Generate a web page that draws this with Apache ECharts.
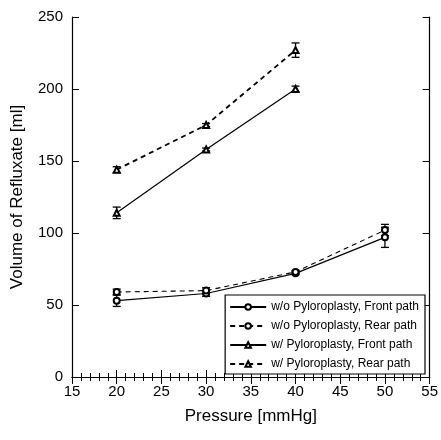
<!DOCTYPE html>
<html>
<head>
<meta charset="utf-8">
<script src="https://cdn.jsdelivr.net/npm/echarts@6/dist/echarts.min.js"></script>
<style>
  html, body { margin: 0; padding: 0; background: #fff; }
  #chart { width: 441px; height: 440px; }
</style>
</head>
<body>
<div id="chart"></div>
<script>
// pressure values [mmHg]
const pressures = [20, 30, 40, 50]
const pressuresW = [20, 30, 40]

// mean refluxate volume [ml]
const woFront = [53, 58, 72, 97]
const woRear = [59, 60, 73, 102]
const wFront = [114, 158, 200]
const wRear = [144, 175, 227]

// error (half-length of bar)
const woFrontErr = [4, 2, 1, 7]
const woRearErr = [2, 2, 1, 4]
const wFrontErr = [4, 1, 2]
const wRearErr = [2, 1, 5]

const names = [
  'w/o Pyloroplasty, Front path',
  'w/o Pyloroplasty, Rear path',
  'w/ Pyloroplasty, Front path',
  'w/ Pyloroplasty, Rear path'
]

function pairs(xs, ys) {
  return xs.map((x, i) => [x, ys[i]])
}
function errData(xs, ys, es) {
  return xs.map((x, i) => [x, ys[i] - es[i], ys[i] + es[i]])
}
function errSeries(xs, ys, es) {
  return {
    type: 'custom',
    silent: true,
    z: 3,
    data: errData(xs, ys, es),
    renderItem: function(params, api) {
      const lo = api.coord([api.value(0), api.value(1)])
      const hi = api.coord([api.value(0), api.value(2)])
      const w = 4
      const style = { stroke: '#000', lineWidth: 1.3 }
      return {
        type: 'group',
        children: [
          { type: 'line', shape: { x1: lo[0], y1: lo[1], x2: hi[0], y2: hi[1] }, style: style },
          { type: 'line', shape: { x1: lo[0] - w, y1: lo[1], x2: lo[0] + w, y2: lo[1] }, style: style },
          { type: 'line', shape: { x1: hi[0] - w, y1: hi[1], x2: hi[0] + w, y2: hi[1] }, style: style }
        ]
      }
    }
  }
}

const font = 'Liberation Sans, Arial, sans-serif'
const chart = echarts.init(document.getElementById('chart'))

const baseX = {
  type: 'value',
  min: 15,
  max: 55,
  interval: 5,
  axisLine: { show: true, lineStyle: { color: '#000', width: 1.2 } },
  axisTick: { show: true, inside: true, length: 7, lineStyle: { color: '#000' } },
  minorTick: { show: true, splitNumber: 5, length: 4, lineStyle: { color: '#000' } },
  splitLine: { show: false }
}
const baseY = {
  type: 'value',
  min: 0,
  max: 250,
  interval: 50,
  axisLine: { show: true, lineStyle: { color: '#000', width: 1.2 } },
  axisTick: { show: true, inside: true, length: 7, lineStyle: { color: '#000' } },
  splitLine: { show: false }
}

chart.setOption({
  animation: false,
  backgroundColor: '#fff',
  grid: { left: 72, right: 8, top: 17, bottom: 63 },
  xAxis: [
    Object.assign({}, baseX, {
      position: 'bottom',
      name: 'Pressure [mmHg]',
      nameLocation: 'middle',
      nameGap: 31,
      nameTextStyle: { color: '#000', fontSize: 17, fontFamily: font },
      axisLabel: { color: '#000', fontSize: 15, fontFamily: font, margin: 7 }
    }),
    Object.assign({}, baseX, { position: 'top', axisLabel: { show: false } })
  ],
  yAxis: [
    Object.assign({}, baseY, {
      position: 'left',
      name: 'Volume of Refluxate [ml]',
      nameLocation: 'middle',
      nameGap: 46,
      nameTextStyle: { color: '#000', fontSize: 17, fontFamily: font },
      axisLabel: { color: '#000', fontSize: 15, fontFamily: font, margin: 9 }
    }),
    Object.assign({}, baseY, { position: 'right', axisLabel: { show: false } })
  ],
  legend: {
    data: names,
    orient: 'vertical',
    right: 16,
    bottom: 66,
    backgroundColor: '#fff',
    borderColor: '#000',
    borderWidth: 1.2,
    borderRadius: 0,
    padding: [6, 6, 4, 4],
    itemWidth: 36,
    itemHeight: 7,
    itemGap: 7,
    textStyle: { color: '#000', fontSize: 12, fontFamily: font }
  },
  series: [
    errSeries(pressures, woFront, woFrontErr),
    errSeries(pressures, woRear, woRearErr),
    errSeries(pressuresW, wFront, wFrontErr),
    errSeries(pressuresW, wRear, wRearErr),
    {
      name: names[0],
      type: 'line',
      data: pairs(pressures, woFront),
      symbol: 'emptyCircle',
      symbolSize: 6,
      z: 4,
      lineStyle: { color: '#000', width: 1.2 },
      itemStyle: { color: '#000', borderColor: '#000', borderWidth: 0.8 }
    },
    {
      name: names[1],
      type: 'line',
      data: pairs(pressures, woRear),
      symbol: 'emptyCircle',
      symbolSize: 6,
      z: 4,
      lineStyle: { color: '#000', width: 1.1, type: [5, 4] },
      itemStyle: { color: '#000', borderColor: '#000', borderWidth: 0.8 }
    },
    {
      name: names[2],
      type: 'line',
      data: pairs(pressuresW, wFront),
      symbol: 'emptyTriangle',
      symbolSize: 6,
      z: 4,
      lineStyle: { color: '#000', width: 1.2 },
      itemStyle: { color: '#000', borderColor: '#000', borderWidth: 0.8 }
    },
    {
      name: names[3],
      type: 'line',
      data: pairs(pressuresW, wRear),
      symbol: 'emptyTriangle',
      symbolSize: 6,
      z: 4,
      lineStyle: { color: '#000', width: 1.8, type: [5, 4] },
      itemStyle: { color: '#000', borderColor: '#000', borderWidth: 0.8 }
    }
  ]
})
</script>
</body>
</html>
